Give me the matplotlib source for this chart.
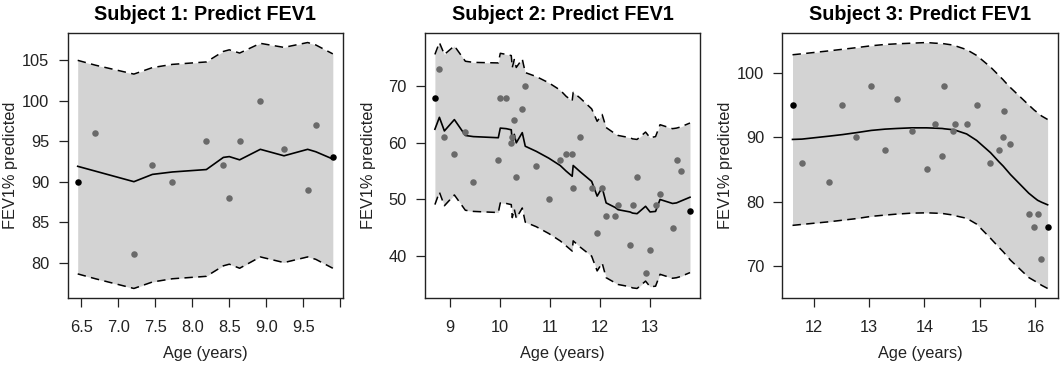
import numpy as np
import matplotlib
matplotlib.use('Agg')
import matplotlib.pyplot as plt

plt.rcParams['font.family'] = ['Liberation Sans', 'DejaVu Sans']

# Subject 1
s1_age = [6.45, 6.69, 7.21, 7.46, 7.73, 8.19, 8.42, 8.50, 8.64, 8.92, 9.24, 9.56, 9.67, 9.90]
s1_fev = [90, 96, 81, 92, 90, 95, 92, 88, 95, 100, 94, 89, 97, 93]
s1_mean = [91.9, 91.3, 90.0, 90.9, 91.2, 91.5, 93.0, 93.1, 92.7, 94.0, 93.2, 94.0, 93.7, 92.8]
s1_upper = [105.0, 104.4, 103.3, 104.1, 104.5, 104.8, 106.1, 106.3, 105.9, 107.1, 106.6, 107.2, 106.9, 105.8]
s1_lower = [78.6, 78.0, 76.8, 77.6, 78.0, 78.3, 79.6, 79.8, 79.3, 80.7, 80.0, 80.7, 80.4, 79.3]

# Subject 2
s2_age = [8.70, 8.79, 8.89, 9.09, 9.31, 9.47, 9.97, 10.01, 10.13, 10.23, 10.25, 10.29, 10.33,
          10.45, 10.51, 10.73, 10.98, 11.21, 11.33, 11.45, 11.47, 11.61, 11.84, 11.95, 12.05,
          12.13, 12.31, 12.37, 12.61, 12.66, 12.75, 12.92, 13.01, 13.12, 13.21, 13.46, 13.54,
          13.62, 13.81]
s2_fev = [68, 73, 61, 58, 62, 53, 57, 68, 68, 60, 61, 64, 54, 66, 70, 56, 50, 57, 58, 58, 52,
          61, 52, 44, 52, 47, 47, 49, 42, 49, 54, 37, 41, 49, 51, 45, 57, 55, 48]
s2_mean = [62.4, 64.5, 62.1, 64.1, 61.3, 61.1, 60.9, 62.6, 62.5, 62.3, 60.0, 61.5, 60.0,
           61.8, 59.4, 58.5, 57.3, 56.0, 55.0, 54.1, 56.0, 54.9, 53.2, 50.6, 52.1,
           49.4, 48.6, 48.2, 47.8, 47.6, 47.5, 48.8, 47.8, 47.9, 50.0, 49.3, 49.4,
           49.7, 50.4]
s2_upper = [75.6, 77.7, 75.6, 77.1, 74.4, 74.2, 74.1, 75.8, 75.6, 75.4, 73.3, 74.7, 73.3,
            74.8, 72.4, 71.7, 70.6, 69.3, 68.2, 67.4, 68.9, 67.9, 66.0, 63.8, 65.0,
            62.7, 61.6, 61.3, 60.9, 60.7, 60.6, 61.9, 60.9, 61.1, 63.2, 62.5, 62.6,
            62.8, 63.5]
s2_lower = [49.1, 51.3, 48.9, 50.8, 48.1, 47.9, 47.7, 49.4, 49.3, 49.1, 46.8, 48.3, 46.7,
            48.5, 46.0, 45.2, 44.0, 42.7, 41.8, 40.9, 42.7, 41.6, 40.0, 37.4, 38.8,
            36.2, 35.3, 35.0, 34.6, 34.4, 34.3, 35.6, 34.6, 34.7, 36.8, 36.1, 36.2,
            36.4, 37.1]

# Subject 3
s3_age = [11.62, 11.79, 12.27, 12.52, 12.77, 13.04, 13.29, 13.50, 13.77, 14.04, 14.19, 14.32,
          14.36, 14.52, 14.55, 14.76, 14.94, 15.19, 15.34, 15.42, 15.44, 15.55, 15.88, 15.98,
          16.04, 16.11, 16.22]
s3_fev = [95, 86, 83, 95, 90, 98, 88, 96, 91, 85, 92, 87, 98, 91, 92, 92, 95, 86, 88, 90, 94,
          89, 78, 76, 78, 71, 76]
s3_mean = [89.65, 89.7, 90.15, 90.4, 90.7, 91.05, 91.25, 91.35, 91.45, 91.45, 91.4, 91.35,
           91.3, 91.15, 91.1, 90.5, 89.5, 87.6, 86.2, 85.5, 85.3, 84.2, 81.3, 80.6,
           80.2, 79.9, 79.5]
s3_upper = [102.8, 102.95, 103.4, 103.65, 103.9, 104.2, 104.4, 104.5, 104.6, 104.7, 104.6,
            104.55, 104.5, 104.3, 104.2, 103.6, 102.7, 100.9, 99.6, 98.9, 98.7, 97.7, 95.0,
            94.2, 93.8, 93.3, 92.75]
s3_lower = [76.3, 76.45, 76.85, 77.1, 77.35, 77.7, 77.9, 78.05, 78.2, 78.25, 78.2, 78.15,
            78.1, 77.9, 77.8, 77.4, 76.5, 74.3, 72.9, 72.2, 72.0, 70.9, 68.2, 67.7,
            67.4, 67.0, 66.5]

titles = ['Subject 1: Predict FEV1', 'Subject 2: Predict FEV1', 'Subject 3: Predict FEV1']
xticks = [[6.5, 7.0, 7.5, 8.0, 8.5, 9.0, 9.5, 10.0], [9, 10, 11, 12, 13], [12, 13, 14, 15, 16]]
xticklabels = [['6.5', '7.0', '7.5', '8.0', '8.5', '9.0', '9.5', ''],
               ['9', '10', '11', '12', '13'], ['12', '13', '14', '15', '16']]
yticks = [[80, 85, 90, 95, 100, 105], [40, 50, 60, 70], [70, 80, 90, 100]]

subjects = [
    (s1_age, s1_fev, s1_mean, s1_upper, s1_lower),
    (s2_age, s2_fev, s2_mean, s2_upper, s2_lower),
    (s3_age, s3_fev, s3_mean, s3_upper, s3_lower),
]

W, H = 1064, 367
fig = plt.figure(figsize=(W / 100, H / 100), dpi=100)
lefts = [67.5, 424.7, 782.3]


def pad(lo, hi):
    r = hi - lo
    return lo - 0.04 * r, hi + 0.04 * r


for k, (age, fev, mean, upper, lower) in enumerate(subjects):
    ax = fig.add_axes([lefts[k] / W, 68.7 / H, 275.5 / W, 265.6 / H])
    ax.fill_between(age, lower, upper, color='#d3d3d3', lw=0)
    ax.plot(age, upper, color='black', lw=1.1, ls=(0, (5.5, 3.5)))
    ax.plot(age, lower, color='black', lw=1.1, ls=(0, (5.5, 3.5)))
    ax.plot(age, mean, color='black', lw=1.2)
    ax.scatter(age[1:-1], fev[1:-1], s=22, color='#6a6a6a', lw=0, zorder=3)
    ax.scatter([age[0], age[-1]], [fev[0], fev[-1]], s=22, color='black', lw=0, zorder=3)

    ax.set_xlim(*pad(min(age), max(age)))
    ax.set_ylim(*pad(min(lower), max(upper)))
    ax.set_xticks(xticks[k])
    ax.set_xticklabels(xticklabels[k])
    ax.set_yticks(yticks[k])
    ax.tick_params(axis='both', direction='out', length=6.5, width=0.9, labelsize=11.8,
                   colors='#222222')
    ax.tick_params(axis='x', pad=9)
    ax.tick_params(axis='y', pad=6.5)
    for sp in ax.spines.values():
        sp.set_linewidth(1.0)
        sp.set_color('#222222')

    ax.set_title(titles[k], fontsize=14.2, fontweight='bold', pad=9.1)
    ax.set_xlabel('Age (years)', fontsize=11.8, color='#222222')
    ax.set_ylabel('FEV1% predicted', fontsize=11.8, color='#222222')
    ax.xaxis.set_label_coords(0.5, -0.18)
    ax.yaxis.set_label_coords(-0.178, 0.5)

fig.savefig('out.png', dpi=100)
